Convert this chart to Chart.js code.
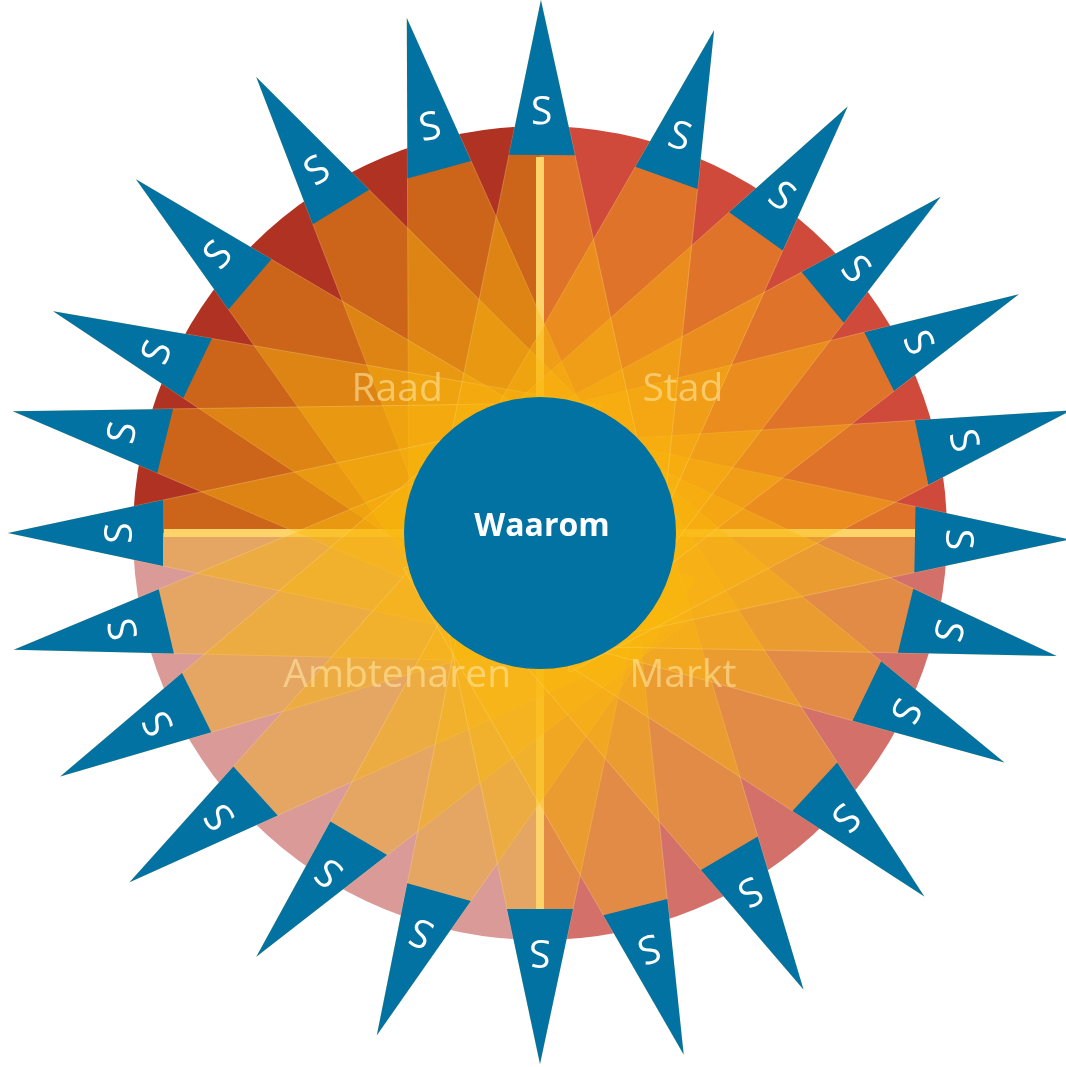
<!DOCTYPE html>
<html>
<head>
<meta charset="utf-8">
<script src="https://cdn.jsdelivr.net/npm/chart.js@4.4.1/dist/chart.umd.min.js"></script>
<style>
html,body{margin:0;padding:0;background:#ffffff;overflow:hidden;}
#wrap{position:relative;width:1066px;height:1067px;}
#disc{position:absolute;left:133px;top:126px;}
#rays{position:absolute;left:0;top:0;}
</style>
</head>
<body>
<div id="wrap">
<canvas id="disc" width="814" height="814"></canvas>
<canvas id="rays" width="1066" height="1067"></canvas>
</div>
<script>
// ---------- data ----------
const quadrantLabels = ['Stad', 'Markt', 'Ambtenaren', 'Raad'];
const quadrantValues = [1, 1, 1, 1];
const centerLabel = 'Waarom';
const spikeLabel = 'S';
// direction of each spike tip (degrees clockwise from top)
const spikeTipAngle = [0.1, 19.1, 35.8, 50.0, 63.5, 77.0, 90.7, 103.4, 116.3, 133.4, 150.0, 164.6,
                       180.0, 198.0, 213.8, 229.6, 243.1, 257.5, 270.0, 283.0, 294.5, 311.2, 328.1, 345.5];
// direction of the middle of each spike base (degrees clockwise from top)
const spikeBaseAngle = [0.3, 19.6, 35.6, 50.2, 63.2, 78.1, 91.0, 103.5, 115.8, 132.7, 149.4, 165.7,
                        180.0, 195.7, 210.7, 227.8, 243.7, 256.7, 270.0, 283.8, 295.7, 310.6, 328.6, 344.5];
// distance of each spike tip from the centre
const spikeLength = [533, 532, 526, 523, 535, 545, 530, 531, 518, 529, 527, 541,
                     531, 528, 510, 539, 538, 539, 532, 541, 535, 537, 537, 532];

// ---------- styling ----------
const quadrantColors = ['#cf4a3a', '#d4706a', '#d99a98', '#b03222'];
const blue = '#0172a2';
const rayFill = 'rgba(251,185,12,0.38)';
const rayEdge = 'rgba(255,226,150,0.3)';
const crossColor = '#ffe4a4';
const capLength = 155;
const capHalfWidth = 33;
const labelDist = 112;
const crossRadius = 376;
const quadLabelRadius = 202;

function polar(angDeg, r) {
  const a = angDeg * Math.PI / 180;
  return { x: r * Math.sin(a), y: r * Math.cos(a) };
}

function spikeGeom(i) {
  const len = spikeLength[i];
  const tip = polar(spikeTipAngle[i], len);
  const ba = spikeBaseAngle[i] * Math.PI / 180;
  const bc = polar(spikeBaseAngle[i], len - capLength);
  const px = Math.cos(ba), py = -Math.sin(ba);
  const c1 = { x: bc.x - px * capHalfWidth, y: bc.y - py * capHalfWidth };
  const c2 = { x: bc.x + px * capHalfWidth, y: bc.y + py * capHalfWidth };
  const k = len / capLength;
  const r1 = { x: tip.x + (c1.x - tip.x) * k, y: tip.y + (c1.y - tip.y) * k };
  const r2 = { x: tip.x + (c2.x - tip.x) * k, y: tip.y + (c2.y - tip.y) * k };
  const t = labelDist / Math.hypot(bc.x - tip.x, bc.y - tip.y);
  const lab = { x: tip.x + (bc.x - tip.x) * t, y: tip.y + (bc.y - tip.y) * t };
  const rot = Math.atan2(tip.x - bc.x, tip.y - bc.y);
  return { tip, c1, c2, r1, r2, lab, rot };
}

// ---------- disc (pie) ----------
new Chart(document.getElementById('disc'), {
  type: 'pie',
  data: {
    labels: quadrantLabels,
    datasets: [{ data: quadrantValues, backgroundColor: quadrantColors, borderWidth: 0 }]
  },
  options: {
    responsive: false, animation: false, events: [],
    layout: { padding: 0 },
    plugins: { legend: { display: false }, tooltip: { enabled: false } }
  }
});

// ---------- spikes, rays, centre ----------
const datasets = [];
datasets.push({ data: [{ x: 0, y: -crossRadius }, { x: 0, y: crossRadius }], borderColor: crossColor, borderWidth: 8, pointRadius: 0, fill: false, order: 40 });
datasets.push({ data: [{ x: -crossRadius, y: 0 }, { x: crossRadius, y: 0 }], borderColor: crossColor, borderWidth: 8, pointRadius: 0, fill: false, order: 40 });
const geoms = spikeLength.map((_, i) => spikeGeom(i));
geoms.forEach(g => {
  datasets.push({ data: [g.tip, g.r1, g.r2, g.tip], fill: 'shape', backgroundColor: rayFill, borderColor: rayEdge, borderWidth: 1, pointRadius: 0, tension: 0, order: 30 });
});
geoms.forEach(g => {
  datasets.push({ data: [g.tip, g.c1, g.c2, g.tip], fill: 'shape', backgroundColor: blue, borderColor: 'rgba(0,0,0,0)', borderWidth: 0, pointRadius: 0, tension: 0, order: 20 });
});
datasets.push({ data: [{ x: 0, y: 0 }], showLine: false, pointRadius: 136, pointBackgroundColor: blue, pointBorderWidth: 0, pointBorderColor: blue, order: 10 });

const textPlugin = {
  id: 'texts',
  afterDatasetsDraw(chart) {
    const { ctx, scales: { x, y } } = chart;
    ctx.save();
    const total = quadrantValues.reduce((a, b) => a + b, 0);
    let acc = 0;
    ctx.textAlign = 'center';
    ctx.textBaseline = 'middle';
    ctx.font = '39px "Open Sans", sans-serif';
    ctx.fillStyle = 'rgba(255,230,160,0.6)';
    quadrantLabels.forEach((lab, i) => {
      const mid = (acc + quadrantValues[i] / 2) / total * 360;
      acc += quadrantValues[i];
      const p = polar(mid, quadLabelRadius);
      ctx.fillText(lab, x.getPixelForValue(p.x), y.getPixelForValue(p.y));
    });
    ctx.font = '500 39px "Open Sans", sans-serif';
    ctx.fillStyle = '#ffffff';
    geoms.forEach(g => {
      ctx.save();
      ctx.translate(x.getPixelForValue(g.lab.x), y.getPixelForValue(g.lab.y));
      ctx.rotate(g.rot);
      ctx.fillText(spikeLabel, 0, 1);
      ctx.restore();
    });
    ctx.font = 'bold 32px "Open Sans", sans-serif';
    ctx.textBaseline = 'alphabetic';
    ctx.fillText(centerLabel, x.getPixelForValue(0) + 2, y.getPixelForValue(0) + 3);
    ctx.restore();
  }
};

new Chart(document.getElementById('rays'), {
  type: 'line',
  data: { datasets },
  options: {
    responsive: false, animation: false, events: [],
    layout: { padding: 0, autoPadding: false },
    elements: { line: { tension: 0 } },
    scales: {
      x: { type: 'linear', min: -540, max: 526, display: false },
      y: { type: 'linear', min: -534, max: 533, display: false }
    },
    plugins: { legend: { display: false }, tooltip: { enabled: false } }
  },
  plugins: [textPlugin]
});
</script>
</body>
</html>
